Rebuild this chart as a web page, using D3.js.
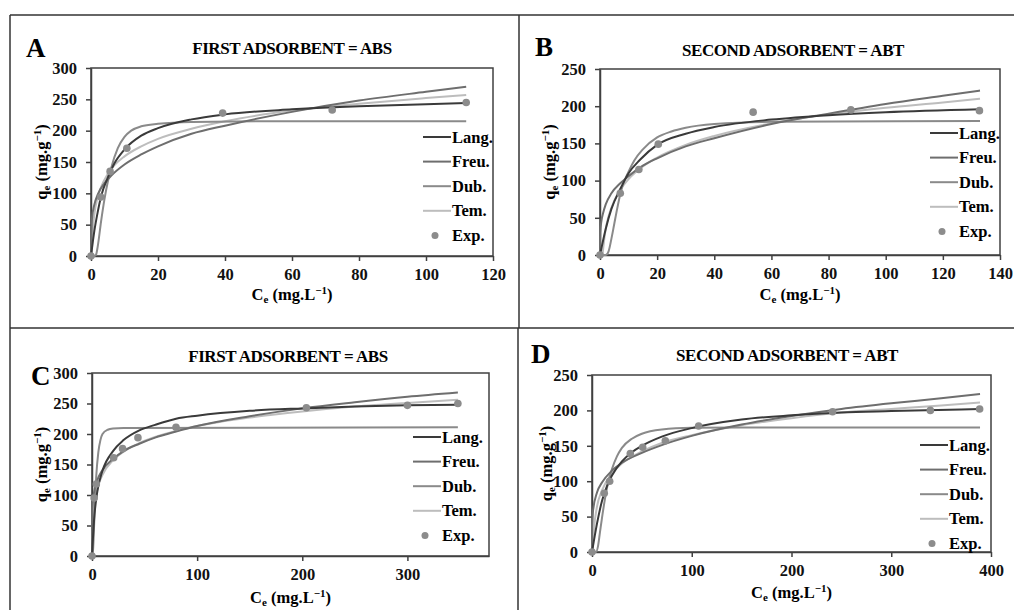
<!DOCTYPE html>
<html>
<head>
<meta charset="utf-8">
<script src="https://cdn.jsdelivr.net/npm/d3@7"></script>
<style>
  body { margin: 0; background: #fff; }
  svg text { font-family: "Liberation Serif", "Times New Roman", serif; font-weight: bold; }
</style>
</head>
<body>
<div id="chart"></div>
<script>
// values, [Ce, qe]
// panel A: first adsorbent (ABS)
const aLang = [[0,0],[1,40],[2,70],[3,95],[5,125],[7,148],[10,170],[15,192],[20,204],[30,218],[40,226],[60,234],[80,239],[100,242],[112,244]];
const aFreu = [[0,0],[0.3,60],[1,82],[2,98],[4,116],[6,128],[10,146],[15,162],[20,175],[30,195],[40,208],[60,230],[80,248],[100,262],[112,270]];
const aDub  = [[0,0],[1,0],[1.5,2],[2,15],[3,55],[4,90],[5,118],[6,140],[8,172],[10,190],[12,200],[15,207],[20,211],[30,214],[50,215],[112,215]];
const aTem  = [[0.2,0],[0.5,37],[1,66],[2,94],[3,110],[5,131],[7,145],[10,159],[15,175],[20,187],[30,203],[40,215],[60,232],[80,243],[100,252],[112,257]];
const aExp  = [[0,0],[2.9,94],[5.7,135],[10.7,172],[39.3,228],[72,233],[112,245]];

// panel B: second adsorbent (ABT)
const bLang = [[0,0],[2,35],[4,62],[7,88],[10,110],[14,128],[20,148],[30,163],[40,172],[60,182],[80,188],[100,192],[133,196]];
const bFreu = [[0,0],[0.1,30],[0.5,46],[1,55],[2,68],[4,83],[7,96],[10,106],[15,120],[20,130],[30,146],[40,157],[60,176],[80,190],[100,203],[120,214],[133,221]];
const bDub  = [[0,0],[2,0],[3,5],[4,22],[5,42],[6,62],[7,80],[8,94],[10,112],[12,127],[15,142],[20,158],[25,166],[30,171],[40,176],[60,179],[133,180]];
const bTem  = [[0.9,0],[1,4],[2,35],[3,52],[5,73],[7,87],[10,102],[15,119],[20,131],[30,148],[40,160],[60,177],[80,189],[100,198],[120,205],[133,210]];
const bExp  = [[0,0],[7.1,83],[13.6,115],[20.4,149],[53.6,192],[87.8,195],[132.8,194]];

// panel C: first adsorbent (ABS), wider range
const cLang = [[0,0],[2,60],[5,105],[10,140],[20,172],[30,190],[45,206],[60,215],[80,225],[100,230],[150,238],[200,242],[250,245],[300,247],[348,248]];
const cFreu = [[0,0],[0.1,60],[0.5,81],[2,105],[5,124],[10,141],[20,159],[30,172],[45,184],[60,194],[80,204],[100,213],[150,229],[200,242],[250,252],[300,261],[348,268]];
const cDub  = [[0,0],[1,10],[2,50],[3,95],[4,130],[6,170],[8,190],[10,200],[15,207],[20,209],[30,210],[348,211]];
const cTem  = [[0.22,0],[0.5,28],[1,53],[2,77],[5,109],[10,133],[20,157],[30,171],[45,185],[60,195],[80,205],[100,213],[150,227],[200,237],[250,245],[300,251],[348,256]];
const cExp  = [[0,0],[2,95],[4.1,118],[20.6,161],[29.1,176],[43.7,194],[79.9,211],[203.9,243],[300,247],[348,250]];

// panel D: second adsorbent (ABT), wider range
const dLang = [[0,0],[5,40],[10,72],[15,93],[20,108],[30,128],[40,141],[50,150],[70,163],[100,175],[150,187],[200,193],[250,197],[300,199],[389,202]];
const dFreu = [[0,0],[0.1,35],[1,58],[5,84],[10,98],[20,115],[30,126],[50,140],[70,151],[100,164],[150,180],[200,192],[250,202],[300,210],[350,217],[389,223]];
const dDub  = [[0,0],[4,0],[6,8],[8,28],[10,48],[13,75],[16,97],[20,117],[25,135],[30,147],[40,160],[50,167],[70,173],[100,175.5],[150,176],[389,176]];
const dTem  = [[0.77,0],[1,9],[2,32],[5,64],[10,87],[20,111],[30,125],[50,142],[70,154],[100,165],[150,179],[200,189],[250,197],[300,202],[350,207],[389,211]];
const dExp  = [[0,0],[12.3,83],[17.7,100],[38.4,139],[50.8,148],[73.5,157],[106.9,178],[241.2,198],[339.2,200],[388.6,202]];

const seriesNames = ["Lang.", "Freu.", "Dub.", "Tem.", "Exp."];
const xTicksSmall = [0, 20, 40, 60, 80, 100, 120];
const xTicksSmallB = [0, 20, 40, 60, 80, 100, 120, 140];
const xTicksLarge = [0, 100, 200, 300];
const xTicksLargeD = [0, 100, 200, 300, 400];
const yTicks300 = [0, 50, 100, 150, 200, 250, 300];
const yTicks250 = [0, 50, 100, 150, 200, 250];

const colors = ["#3a3a3a", "#6e6e6e", "#8a8a8a", "#bdbdbd"];
const expColor = "#8c8c8c";

const panels = [
  { letter: "A", title: "FIRST ADSORBENT = ABS", lines: [aLang, aFreu, aDub, aTem], exp: aExp,
    x0: 91, x1: 493, y0: 68, y1: 256, xMax: 120, yMax: 300, xTicks: xTicksSmall, yTicks: yTicks300,
    letterPos: [26, 57], titlePos: [292, 54], legX: 423, legY: 137, yTitleX: 42, xTitleY: 300 },
  { letter: "B", title: "SECOND ADSORBENT = ABT", lines: [bLang, bFreu, bDub, bTem], exp: bExp,
    x0: 600, x1: 1000, y0: 69, y1: 255, xMax: 140, yMax: 250, xTicks: xTicksSmallB, yTicks: yTicks250,
    letterPos: [535, 56], titlePos: [793, 56], legX: 930, legY: 133, yTitleX: 550, xTitleY: 300 },
  { letter: "C", title: "FIRST ADSORBENT = ABS", lines: [cLang, cFreu, cDub, cTem], exp: cExp,
    x0: 92, x1: 489, y0: 373, y1: 556, xMax: 377.6, yMax: 300, xTicks: xTicksLarge, yTicks: yTicks300,
    letterPos: [31, 385], titlePos: [288, 362], legX: 413, legY: 437, yTitleX: 42, xTitleY: 603 },
  { letter: "D", title: "SECOND ADSORBENT = ABT", lines: [dLang, dFreu, dDub, dTem], exp: dExp,
    x0: 592, x1: 991, y0: 375, y1: 552, xMax: 400, yMax: 250, xTicks: xTicksLargeD, yTicks: yTicks250,
    letterPos: [531, 363], titlePos: [787, 361], legX: 920, legY: 445, yTitleX: 547, xTitleY: 598 }
];

const svg = d3.select("#chart")
  .append("svg")
  .attr("width", 1014)
  .attr("height", 610);

// outer panel borders
const borderColor = "#333";
[[10, 15, 1014, 15], [10, 15, 10, 610], [10, 328, 1014, 328], [519, 15, 519, 328], [518, 328, 518, 610]]
  .forEach(b => {
    svg.append("line")
      .attr("x1", b[0]).attr("y1", b[1]).attr("x2", b[2]).attr("y2", b[3])
      .attr("stroke", borderColor).attr("stroke-width", 1.5);
  });

panels.forEach(p => {
  const x = d3.scaleLinear().domain([0, p.xMax]).range([p.x0, p.x1]);
  const y = d3.scaleLinear().domain([0, p.yMax]).range([p.y1, p.y0]);
  const g = svg.append("g");

  g.append("text")
    .attr("x", p.letterPos[0]).attr("y", p.letterPos[1])
    .attr("font-size", 27)
    .text(p.letter);

  g.append("text")
    .attr("x", p.titlePos[0]).attr("y", p.titlePos[1])
    .attr("text-anchor", "middle")
    .attr("font-size", 17)
    .attr("letter-spacing", -0.45)
    .text(p.title);

  // plot frame
  g.append("rect")
    .attr("x", p.x0).attr("y", p.y0)
    .attr("width", p.x1 - p.x0).attr("height", p.y1 - p.y0)
    .attr("fill", "none")
    .attr("stroke", "#404040")
    .attr("stroke-width", 1.5);

  const xAxis = g.append("g")
    .attr("transform", `translate(0,${p.y1})`)
    .call(d3.axisBottom(x).tickValues(p.xTicks).tickSize(5).tickSizeOuter(0).tickPadding(7.5));
  const yAxis = g.append("g")
    .attr("transform", `translate(${p.x0},0)`)
    .call(d3.axisLeft(y).tickValues(p.yTicks).tickSize(5).tickSizeOuter(0).tickPadding(9));
  [xAxis, yAxis].forEach(ax => {
    ax.select(".domain").attr("stroke", "#404040").attr("stroke-width", 1.5);
    ax.selectAll(".tick line").attr("stroke", "#404040").attr("stroke-width", 1.5);
    ax.selectAll(".tick text")
      .attr("fill", "#111")
      .style("font-family", "'Liberation Serif', serif")
      .style("font-weight", "bold")
      .style("font-size", "16.5px");
  });

  const line = d3.line()
    .x(d => x(d[0]))
    .y(d => y(d[1]))
    .curve(d3.curveMonotoneX);

  // draw in order so the darker Langmuir curve stays on top
  [3, 2, 1, 0].forEach(i => {
    g.append("path")
      .datum(p.lines[i])
      .attr("d", line)
      .attr("fill", "none")
      .attr("stroke", colors[i])
      .attr("stroke-width", 2);
  });

  g.selectAll(".exp")
    .data(p.exp)
    .enter()
    .append("circle")
    .attr("cx", d => x(d[0]))
    .attr("cy", d => y(d[1]))
    .attr("r", 3.8)
    .attr("fill", expColor);

  // legend
  seriesNames.forEach((name, i) => {
    const ly = p.legY + i * 24.6;
    if (i < 4) {
      g.append("line")
        .attr("x1", p.legX).attr("x2", p.legX + 28)
        .attr("y1", ly).attr("y2", ly)
        .attr("stroke", colors[i]).attr("stroke-width", 2);
    } else {
      g.append("circle")
        .attr("cx", p.legX + 12).attr("cy", ly)
        .attr("r", 3.5).attr("fill", expColor);
    }
    g.append("text")
      .attr("x", p.legX + 29).attr("y", ly + 5.5)
      .attr("font-size", 16.5)
      .text(name);
  });

  // axis titles
  const xt = g.append("text")
    .attr("x", (p.x0 + p.x1) / 2).attr("y", p.xTitleY)
    .attr("text-anchor", "middle")
    .attr("font-size", 16.5);
  xt.append("tspan").text("C");
  xt.append("tspan").attr("font-size", 11).attr("dy", 3).text("e");
  xt.append("tspan").attr("dy", -3).text(" (mg.L");
  xt.append("tspan").attr("font-size", 11).attr("dy", -6).text("−1");
  xt.append("tspan").attr("dy", 6).text(")");

  const yt = g.append("text")
    .attr("transform", `translate(${p.yTitleX + 5},${(p.y0 + p.y1) / 2}) rotate(-90)`)
    .attr("text-anchor", "middle")
    .attr("font-size", 16.5);
  yt.append("tspan").text("q");
  yt.append("tspan").attr("font-size", 11).attr("dy", 3).text("e");
  yt.append("tspan").attr("dy", -3).text(" (mg.g");
  yt.append("tspan").attr("font-size", 11).attr("dy", -6).text("−1");
  yt.append("tspan").attr("dy", 6).text(")");
});
</script>
</body>
</html>
